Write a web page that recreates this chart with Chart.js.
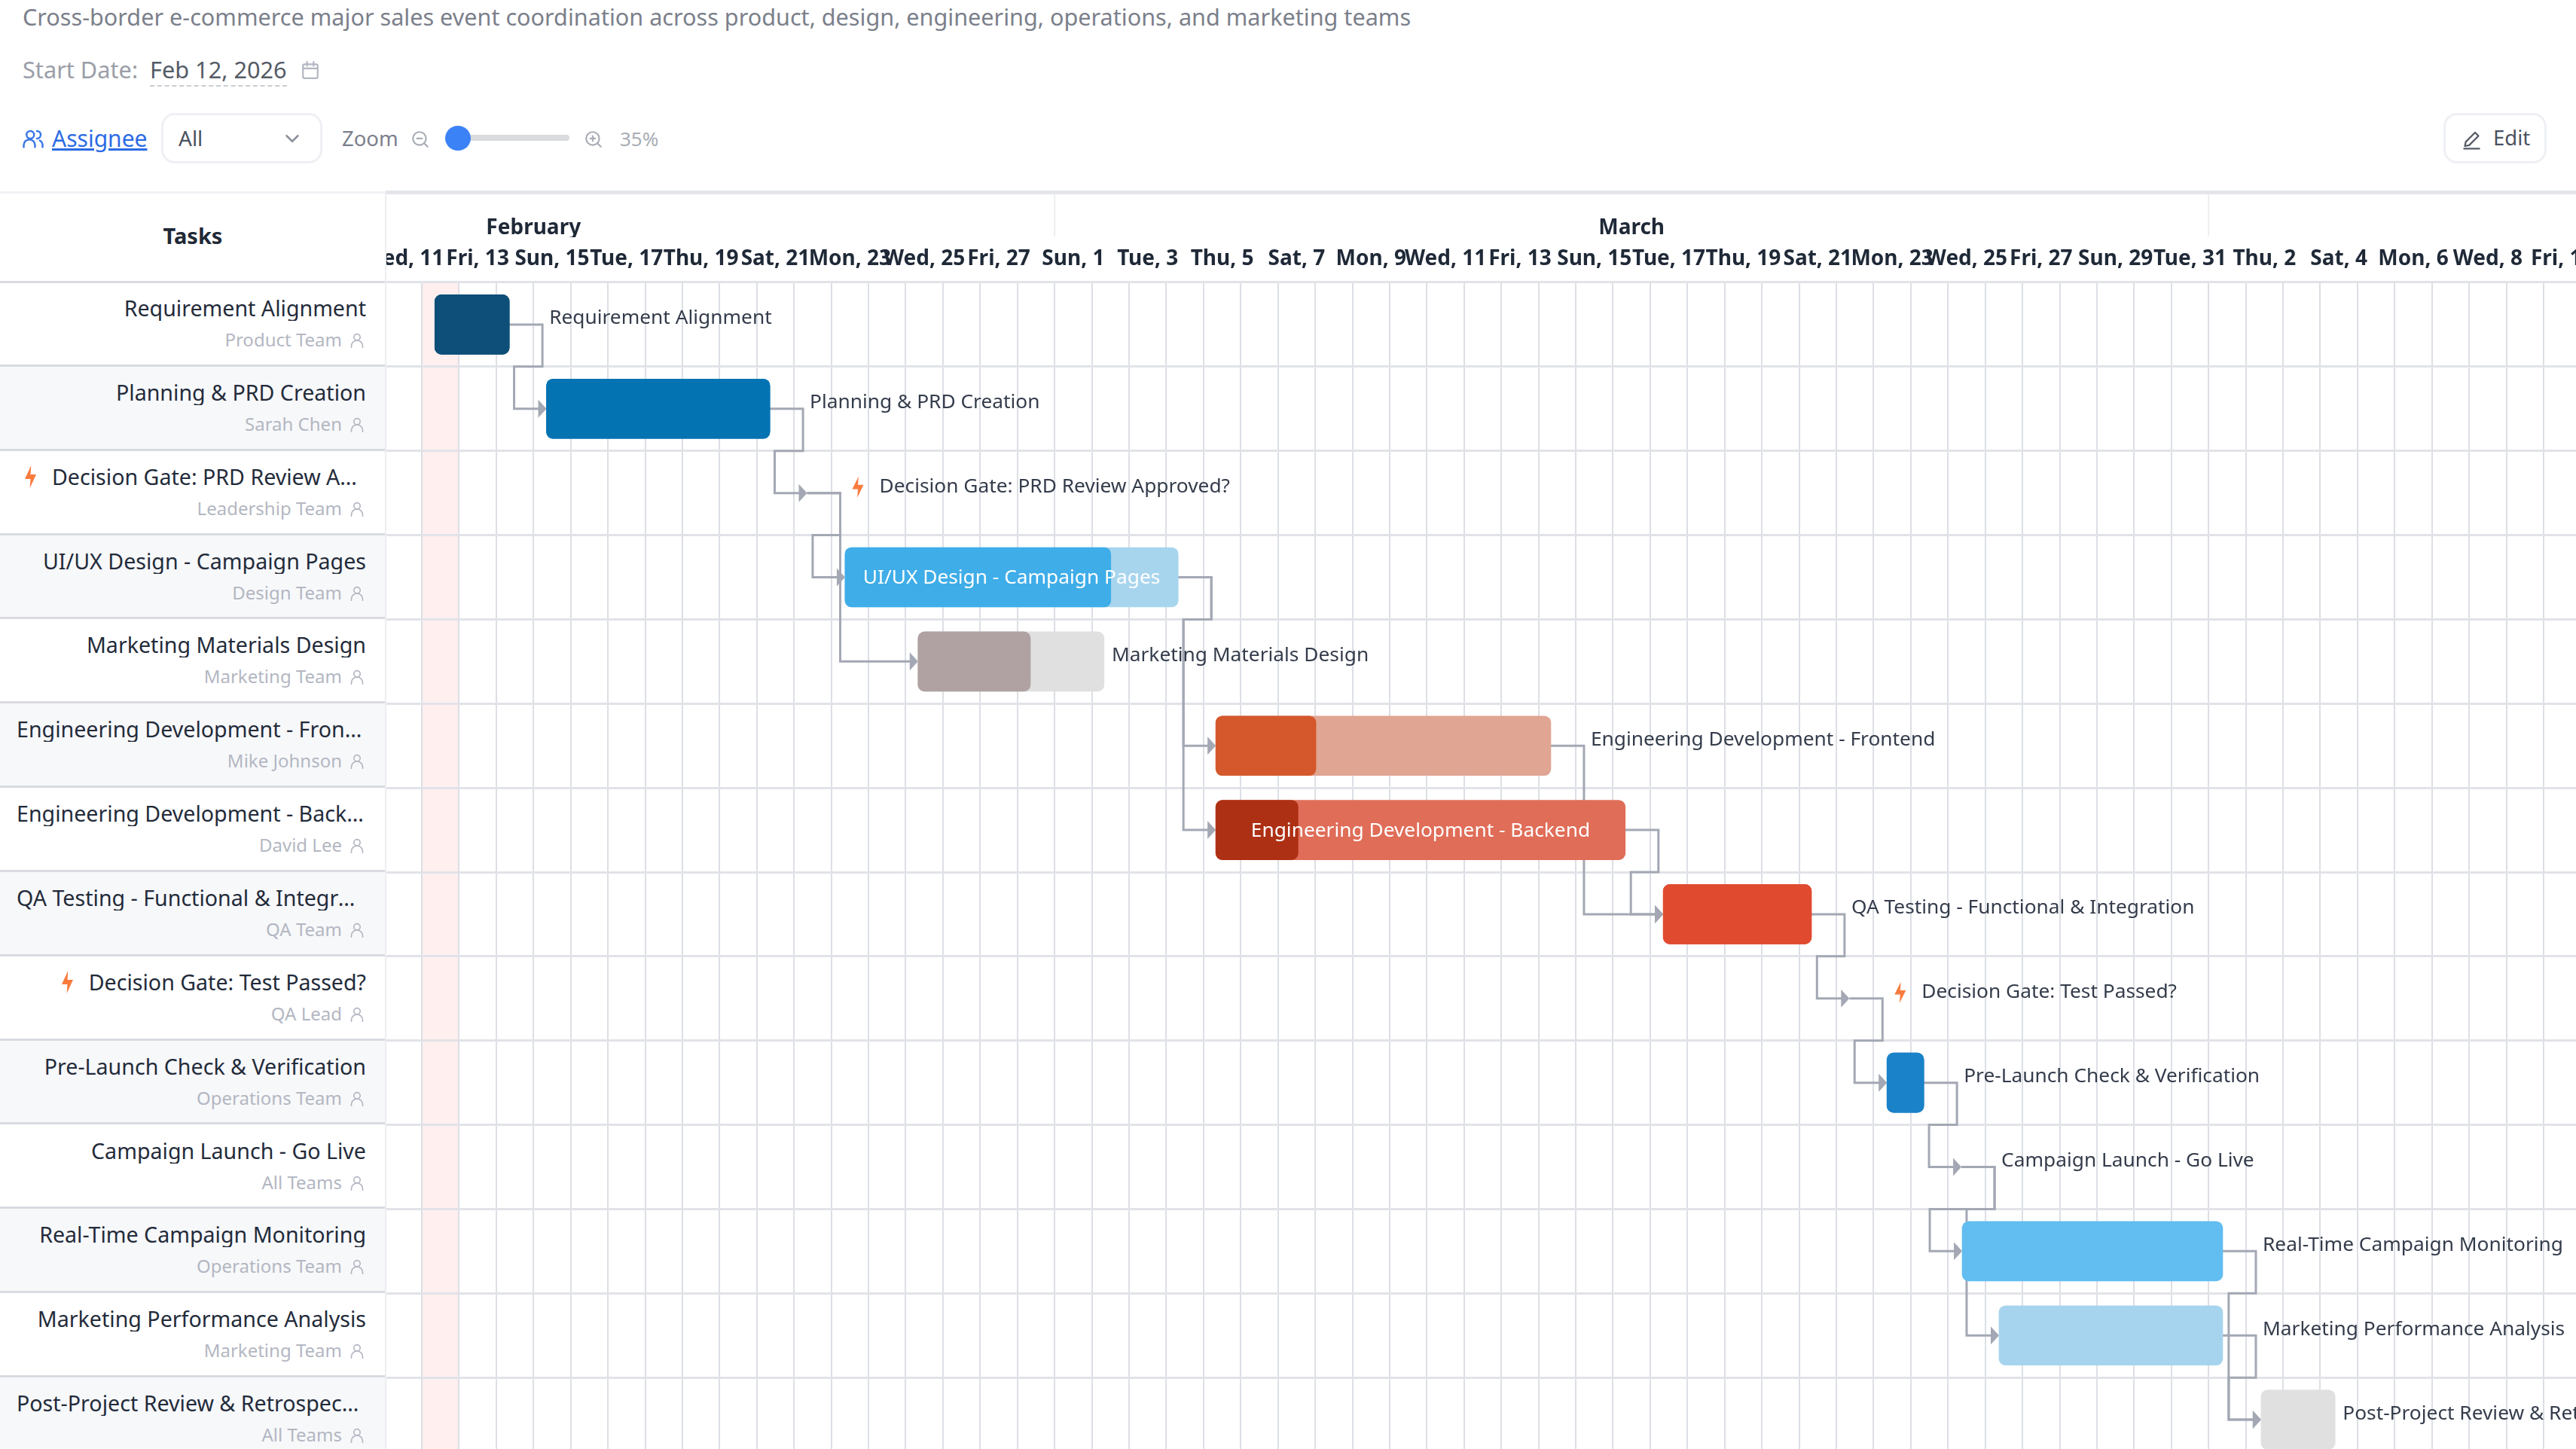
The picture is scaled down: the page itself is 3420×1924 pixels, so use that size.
<!DOCTYPE html>
<html>
<head>
<meta charset="utf-8">
<title>Gantt</title>
<script src="https://cdn.jsdelivr.net/npm/chart.js@4"></script>
<style>
    html, body { margin: 0; width: 3420px; height: 1924px; overflow: hidden; background: #fff; }
    body { position: relative; font-family: "Noto Sans", sans-serif; color: #1f2937; }
    .abs { position: absolute; white-space: nowrap; line-height: 1; }
    .box { position: absolute; box-sizing: border-box; border: 3px solid #eef0f4; border-radius: 18px; }
    svg.icon { fill: none; stroke-linecap: round; stroke-linejoin: round; }
    #chartWrap { position: absolute; left: 512px; top: 255px; width: 2908px; height: 1686px; }
    #leftPane { position: absolute; left: 0; top: 255px; width: 512px; height: 1686px; }
    .row { position: absolute; left: 0; width: 512px; box-sizing: border-box; border-bottom: 3px solid #d9dbe1; }
    .row.alt { background: #f7f8fa; }
    .name { position: absolute; left: 22px; right: 26px; top: 17px; display: flex; justify-content: flex-end; align-items: center; font-size: 28.6px; line-height: 34px; color: #232b3a; }
    .name span { min-width: 0; overflow: hidden; text-overflow: ellipsis; white-space: nowrap; }
    .name svg { flex: none; margin-right: 21px; }
    .who { position: absolute; right: 58px; top: 62px; font-size: 24px; line-height: 28px; white-space: nowrap; color: #b3b7c2; }
</style>
</head>
<body>

<div class="abs" style="left:30px;top:5px;font-size:30.6px;line-height:34px;color:#7b808b">Cross-border e-commerce major sales event coordination across product, design, engineering, operations, and marketing teams</div>

<div class="abs" style="left:30px;top:75px;font-size:30.7px;line-height:34px;color:#9a9ea8">Start Date:</div>
<div class="abs" style="left:199px;top:75px;font-size:30.7px;line-height:34px;color:#555b66;border-bottom:2px dashed #c9ccd3;padding-bottom:4px">Feb 12, 2026</div>
<svg class="icon" style="position:absolute;left:399px;top:79px" width="26" height="28" viewBox="0 0 24 24" stroke="#b3b7c2" stroke-width="2"><rect x="3" y="5" width="18" height="17" rx="2"/><path d="M3 10h18M8 2v5M16 2v5"/></svg>

<svg class="icon" style="position:absolute;left:29px;top:169px" width="30" height="30" viewBox="0 0 24 24" stroke="#3b78e7" stroke-width="2"><circle cx="9" cy="8" r="4"/><path d="M2 21v-2a6 6 0 0 1 12 0v2M16 4a4 4 0 0 1 0 8M19 14a6 6 0 0 1 3 5v2"/></svg>
<div class="abs" style="left:69px;top:166px;font-size:30px;line-height:36px;color:#2b6be4;text-decoration:underline">Assignee</div>
<div class="box" style="left:214px;top:150px;width:214px;height:67px"></div>
<div class="abs" style="left:237px;top:166px;font-size:28px;line-height:34px;color:#4b5260">All</div>
<svg class="icon" style="position:absolute;left:373px;top:169px" width="30" height="30" viewBox="0 0 24 24" stroke="#8b909b" stroke-width="2"><path d="M6 9l6 6 6-6"/></svg>
<div class="abs" style="left:454px;top:167px;font-size:27.5px;line-height:34px;color:#7b808b">Zoom</div>
<svg class="icon" style="position:absolute;left:545px;top:171px" width="26" height="28" viewBox="0 0 24 24" stroke="#a9adb6" stroke-width="2"><circle cx="11" cy="11" r="8"/><path d="M21 21l-4-4M8 11h6"/></svg>
<div style="position:absolute;left:595px;top:179px;width:161px;height:8px;border-radius:4px;background:#d9dbdf"></div>
<div style="position:absolute;left:591px;top:167px;width:34px;height:33px;border-radius:50%;background:#3b82f6"></div>
<svg class="icon" style="position:absolute;left:775px;top:171px" width="26" height="28" viewBox="0 0 24 24" stroke="#a9adb6" stroke-width="2"><circle cx="11" cy="11" r="8"/><path d="M21 21l-4-4M8 11h6M11 8v6"/></svg>
<div class="abs" style="left:823px;top:167px;font-size:26px;line-height:34px;color:#a9adb6">35%</div>

<div class="box" style="left:3244px;top:150px;width:137px;height:67px"></div>
<svg class="icon" style="position:absolute;left:3268px;top:170px" width="27" height="30" viewBox="0 0 24 24" stroke="#555b66" stroke-width="2"><path d="M4 20l1-5L16 4l4 4L9 19z"/><path d="M3 23h18"/></svg>
<div class="abs" style="left:3310px;top:166px;font-size:27.5px;line-height:34px;color:#4b5260">Edit</div>

<div id="leftPane"></div>
<div id="chartWrap"><canvas id="chart"></canvas></div>
<div style="position:absolute;left:0;top:254px;width:512px;height:3px;background:#f1f2f5"></div>
<div style="position:absolute;left:512px;top:253px;width:2908px;height:5px;background:#e3e5ea"></div>
<div style="position:absolute;left:511px;top:255px;width:2px;height:1669px;background:#eceef2"></div>

<script>
// ---------- data ----------
const taskNames = ['Requirement Alignment', 'Planning & PRD Creation', 'Decision Gate: PRD Review Approved?',
    'UI/UX Design - Campaign Pages', 'Marketing Materials Design', 'Engineering Development - Frontend',
    'Engineering Development - Backend', 'QA Testing - Functional & Integration', 'Decision Gate: Test Passed?',
    'Pre-Launch Check & Verification', 'Campaign Launch - Go Live', 'Real-Time Campaign Monitoring',
    'Marketing Performance Analysis', 'Post-Project Review & Retrospective'];
const assignees = ['Product Team', 'Sarah Chen', 'Leadership Team', 'Design Team', 'Marketing Team', 'Mike Johnson',
    'David Lee', 'QA Team', 'QA Lead', 'Operations Team', 'All Teams', 'Operations Team', 'Marketing Team', 'All Teams'];

// days after Feb 12
const taskStart = [0.35, 3.35, 10.35, 11.37, 13.33, 21.33, 21.33, 33.35, 38.35, 39.36, 41.36, 41.38, 42.37, 49.41];
const taskEnd = [2.35, 9.35, 10.35, 20.32, 18.33, 30.33, 32.33, 37.33, 38.35, 40.35, 41.36, 48.38, 48.38, 51.4];
const doneEnd = [2.35, 9.35, null, 18.51, 16.35, 24.02, 23.54, 37.33, null, 40.35, null, null, null, null];
const planColors = ['#0d4f78', '#0473b2', null, '#a8d5ee', '#e0e0e0', '#e0a593', '#e06d58', '#e04b30', null,
    '#1a82c8', null, '#62bdf0', '#a6d4ee', '#e0e0e0'];
const doneColors = ['#0d4f78', '#0473b2', null, '#3fade8', '#b0a2a2', '#d4582b', '#ae3014', '#e04b30', null,
    '#1a82c8', null, null, null, null];
const labelInside = [false, false, false, true, false, false, true, false, false, false, false, false, false, false];
const decisionTasks = [2, 8];
const links = [[0, 1], [1, 2], [2, 3], [2, 4], [3, 5], [3, 6], [5, 7], [6, 7], [7, 8], [8, 9], [9, 10], [10, 11],
    [10, 12], [11, 13], [12, 13]];

const dayLabels = ['Wed, 11', 'Fri, 13', 'Sun, 15', 'Tue, 17', 'Thu, 19', 'Sat, 21', 'Mon, 23', 'Wed, 25', 'Fri, 27',
    'Sun, 1', 'Tue, 3', 'Thu, 5', 'Sat, 7', 'Mon, 9', 'Wed, 11', 'Fri, 13', 'Sun, 15', 'Tue, 17', 'Thu, 19', 'Sat, 21',
    'Mon, 23', 'Wed, 25', 'Fri, 27', 'Sun, 29', 'Tue, 31', 'Thu, 2', 'Sat, 4', 'Mon, 6', 'Wed, 8', 'Fri, 10'];
const monthLabels = ['February', 'March'];
const monthTicks = [3, 32.5];
const monthBreaks = [17, 48];
const todayDay = 0;
const dayMin = -0.971;
const dayMax = 57.87;

const lineColor = '#a3a8b4';
const textColor = '#343c4b';
const boltColor = '#f97b3d';
const ROW_H = 111.85;
const BOLT = 'M13 2L3 14h9l-1 8 10-12h-9l1-8z';

// ---------- left pane ----------
const pane = document.getElementById('leftPane');

const header = document.createElement('div');
header.className = 'abs';
header.style.cssText = 'left:0;width:512px;top:40px;text-align:center;font-size:29px;line-height:36px;font-weight:700;color:#1f2937';
header.textContent = 'Tasks';
pane.appendChild(header);

const headerLine = document.createElement('div');
headerLine.style.cssText = 'position:absolute;left:0;top:118px;width:512px;height:3px;background:#d9dbe1';
pane.appendChild(headerLine);

taskNames.forEach((name, i) => {
    const row = document.createElement('div');
    row.className = i % 2 ? 'row alt' : 'row';
    row.style.top = (120 + i * ROW_H) + 'px';
    row.style.height = ROW_H + 'px';

    const nameEl = document.createElement('div');
    nameEl.className = 'name';
    if (decisionTasks.includes(i)) {
        nameEl.style.left = '33px';
        nameEl.innerHTML = `<svg width="15" height="30" viewBox="3 2 18 20" preserveAspectRatio="none"><path d="${BOLT}" fill="${boltColor}"/></svg>`;
    }
    const nameText = document.createElement('span');
    nameText.textContent = name;
    nameEl.appendChild(nameText);
    row.appendChild(nameEl);

    const who = document.createElement('div');
    who.className = 'who';
    who.textContent = assignees[i];
    row.appendChild(who);

    row.insertAdjacentHTML('beforeend', `<svg class="icon" style="position:absolute;left:464px;top:65px" width="20" height="24" viewBox="0 0 24 24" stroke="#b3b7c2" stroke-width="2"><circle cx="12" cy="7" r="5"/><path d="M3 23v-2a9 9 0 0 1 18 0v2"/></svg>`);
    pane.appendChild(row);
});

// ---------- plugin: today, month breaks, connectors, labels ----------
function drawLink(ctx, x, y, from, to) {
    const sx = x.getPixelForValue(taskEnd[from]);
    const tx = x.getPixelForValue(taskStart[to]);
    const sy = y.getPixelForValue(from);
    const ty = y.getPixelForValue(to);
    const outX = sx + 44;
    const inX = tx - 43;

    ctx.beginPath();
    ctx.moveTo(sx, sy);
    ctx.lineTo(outX, sy);
    if (inX >= outX) {
        ctx.lineTo(outX, ty);
    } else {
        const b = sy + ROW_H / 2;
        ctx.lineTo(outX, b);
        ctx.lineTo(inX, b);
        ctx.lineTo(inX, ty);
    }
    ctx.lineTo(tx - 6, ty);
    ctx.stroke();

    ctx.beginPath();
    ctx.moveTo(tx, ty);
    ctx.lineTo(tx - 11, ty - 12);
    ctx.lineTo(tx - 11, ty + 12);
    ctx.closePath();
    ctx.fill();
}

const ganttPlugin = {
    id: 'gantt',
    beforeDraw(chart) {
        const { ctx, chartArea, scales } = chart;
        const x0 = scales.x.getPixelForValue(todayDay);
        const x1 = scales.x.getPixelForValue(todayDay + 1);
        ctx.save();
        ctx.fillStyle = '#ffefef';
        ctx.fillRect(x0, chartArea.top, x1 - x0, chartArea.bottom - chartArea.top);
        ctx.fillStyle = '#eceef2';
        monthBreaks.forEach(d => {
            ctx.fillRect(scales.x.getPixelForValue(d) - 1, 0, 2, 59);
        });
        ctx.restore();
    },
    beforeDatasetsDraw(chart) {
        const { ctx, scales } = chart;
        ctx.save();
        ctx.strokeStyle = lineColor;
        ctx.fillStyle = lineColor;
        ctx.lineWidth = 3;
        links.forEach(([a, b]) => drawLink(ctx, scales.x, scales.y, a, b));
        ctx.restore();
    },
    afterDatasetsDraw(chart) {
        const { ctx, scales } = chart;
        const hasNext = i => links.some(l => l[0] === i);
        ctx.save();
        ctx.font = '26.3px "Noto Sans"';
        ctx.textBaseline = 'middle';
        taskNames.forEach((name, i) => {
            const rowY = scales.y.getPixelForValue(i);
            const x0 = scales.x.getPixelForValue(taskStart[i]);
            const x1 = scales.x.getPixelForValue(taskEnd[i]);
            if (labelInside[i]) {
                ctx.fillStyle = '#fff';
                ctx.textAlign = 'center';
                ctx.fillText(name, (x0 + x1) / 2, rowY + 1);
                return;
            }
            let lx = x1 + (hasNext(i) ? 53 : 10);
            if (decisionTasks.includes(i)) {
                // lightning icon in front of decision gates
                ctx.save();
                ctx.translate(lx + 7, rowY - 22);
                ctx.scale(15 / 18, 28 / 20);
                ctx.translate(-3, -2);
                ctx.fillStyle = boltColor;
                ctx.fill(new Path2D(BOLT));
                ctx.restore();
                lx += 43;
            }
            ctx.fillStyle = textColor;
            ctx.textAlign = 'left';
            ctx.fillText(name, lx, rowY - 8);
        });
        ctx.restore();
    }
};

// ---------- chart ----------
const topAxis = (labels, values, weight, height, padding, fontSize) => ({
    type: 'linear',
    axis: 'x',
    position: 'top',
    weight,
    min: dayMin,
    max: dayMax,
    grid: { display: false, drawTicks: false },
    border: { display: false },
    afterBuildTicks: s => { s.ticks = values.map(value => ({ value })); },
    afterFit: s => { s.height = height; s.paddingLeft = 0; s.paddingRight = 0; },
    ticks: {
        autoSkip: false,
        maxRotation: 0,
        minRotation: 0,
        padding,
        color: '#1f2937',
        font: { family: '"Noto Sans"', size: fontSize, weight: 'bold' },
        callback: (v, i) => labels[i]
    }
});

const dayLines = [];
for (let d = 0; d <= 57; d++) dayLines.push(d);

new Chart(document.getElementById('chart'), {
    type: 'bar',
    data: {
        labels: taskNames,
        datasets: [
            {
                label: 'Done',
                data: doneEnd.map((e, i) => (e === null ? null : [taskStart[i], e])),
                backgroundColor: doneColors
            },
            {
                label: 'Planned',
                data: taskEnd.map((e, i) => (e === taskStart[i] ? null : [taskStart[i], e])),
                backgroundColor: planColors
            }
        ]
    },
    options: {
        indexAxis: 'y',
        responsive: true,
        maintainAspectRatio: false,
        devicePixelRatio: 1,
        animation: false,
        layout: { padding: 0, autoPadding: false },
        datasets: {
            bar: { grouped: false, barThickness: 79, borderRadius: 9, borderSkipped: false }
        },
        plugins: { legend: { display: false }, tooltip: { enabled: false } },
        scales: {
            x: {
                type: 'linear',
                position: 'top',
                weight: 0,
                min: dayMin,
                max: dayMax,
                grid: { color: '#dcdfe5', lineWidth: 2, drawTicks: false },
                border: { display: false },
                ticks: { display: false },
                afterBuildTicks: s => { s.ticks = dayLines.map(value => ({ value })); },
                afterFit: s => { s.height = 0; }
            },
            xDays: topAxis(dayLabels, dayLabels.map((_, i) => -0.5 + i * 2), 1, 60, 14, 28),
            xMonths: topAxis(monthLabels, monthTicks, 2, 60, -5, 28),
            y: {
                type: 'category',
                offset: true,
                grid: { color: '#e1e3e8', lineWidth: 3, drawTicks: false, offset: true },
                border: { display: false },
                ticks: { display: false },
                afterFit: s => { s.width = 0; }
            }
        }
    },
    plugins: [ganttPlugin]
});
</script>
</body>
</html>
